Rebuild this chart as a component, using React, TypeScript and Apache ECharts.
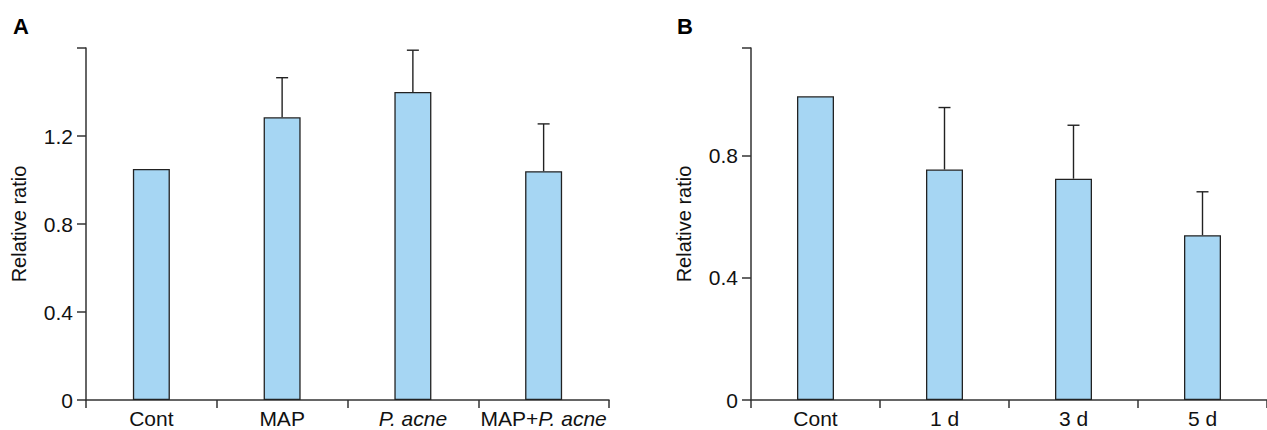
import React, { useEffect, useRef } from "react";
import * as echarts from "echarts";

const categoriesA = ["Cont", "MAP", "P. acne", "MAP+P. acne"];
const valuesA = [1.05, 1.285, 1.4, 1.04];
const errorsA = [0, 0.18, 0.19, 0.215];
const ticksA = { min: 0, max: 1.6, interval: 0.4 };

const categoriesB = ["Cont", "1 d", "3 d", "5 d"];
const valuesB = [0.995, 0.755, 0.725, 0.54];
const errorsB = [0, 0.203, 0.175, 0.142];
const ticksB = { min: 0, max: 1.153, interval: 0.4 };

const FONT = "Liberation Sans, Arial, Helvetica, sans-serif";
const AXIS_COLOR = "#333";
const TEXT_COLOR = "#111";
const BAR_COLOR = "#a6d6f3";
const LABEL_SIZE = 21;

function errorData(values: number[], errors: number[]) {
  return values
    .map((v, i) => [i, v, v + errors[i]])
    .filter((d) => d[2] > d[1]);
}

function renderError(params: any, api: any) {
  const base = api.coord([api.value(0), api.value(1)]);
  const top = api.coord([api.value(0), api.value(2)]);
  const style = { stroke: "#222", lineWidth: 1.4 };
  return {
    type: "group",
    children: [
      { type: "line", shape: { x1: base[0], y1: base[1], x2: top[0], y2: top[1] }, style },
      { type: "line", shape: { x1: top[0] - 6, y1: top[1], x2: top[0] + 6, y2: top[1] }, style },
    ],
  };
}

function labelFmt(v: string) {
  if (v === "P. acne") return "{i|P. acne}";
  if (v === "MAP+P. acne") return "MAP+{i|P. acne}";
  return v;
}

function xAxis(gridIndex: number, data: string[]) {
  return {
    type: "category",
    gridIndex,
    data,
    boundaryGap: true,
    axisLine: { lineStyle: { color: AXIS_COLOR, width: 1.5 } },
    axisTick: { show: true, length: 8, lineStyle: { color: AXIS_COLOR, width: 1.5 } },
    axisLabel: {
      interval: 0,
      hideOverlap: false,
      margin: 8,
      fontSize: LABEL_SIZE,
      fontFamily: FONT,
      color: TEXT_COLOR,
      formatter: labelFmt,
      rich: {
        i: { fontStyle: "italic", fontSize: LABEL_SIZE, fontFamily: FONT, color: TEXT_COLOR },
      },
    },
    splitLine: { show: false },
  };
}

function yAxis(gridIndex: number, t: { min: number; max: number; interval: number }, hideAbove: number) {
  return {
    type: "value",
    gridIndex,
    min: t.min,
    max: t.max,
    interval: t.interval,
    name: "Relative ratio",
    nameLocation: "middle",
    nameGap: 57,
    nameTextStyle: { fontSize: 20, fontFamily: FONT, color: TEXT_COLOR },
    axisLine: { show: true, lineStyle: { color: AXIS_COLOR, width: 1.5 } },
    axisTick: { show: true, length: 9, lineStyle: { color: AXIS_COLOR, width: 1.5 } },
    axisLabel: {
      margin: 13,
      fontSize: LABEL_SIZE,
      fontFamily: FONT,
      color: TEXT_COLOR,
      formatter: (v: number) => (v > hideAbove ? "" : String(Math.round(v * 10) / 10)),
    },
    splitLine: { show: false },
  };
}

export default function App() {
  const ref = useRef<HTMLDivElement>(null);
  useEffect(() => {
    document.body.style.margin = "0";
    if (!ref.current) return;
    const chart = echarts.init(ref.current, null, { renderer: "svg" });
    chart.setOption({
      animation: false,
      backgroundColor: "#ffffff",
      graphic: [
        { type: "text", left: 13, top: 15, style: { text: "A", fontSize: 22, fontWeight: "bold", fontFamily: FONT, fill: "#000" } },
        { type: "text", left: 677, top: 15, style: { text: "B", fontSize: 22, fontWeight: "bold", fontFamily: FONT, fill: "#000" } },
      ],
      grid: [
        { left: 86, right: 658, top: 48, bottom: 30, containLabel: false },
        { left: 751, right: -11, top: 48, bottom: 30, containLabel: false },
      ],
      xAxis: [xAxis(0, categoriesA), xAxis(1, categoriesB)],
      yAxis: [yAxis(0, ticksA, 1.3), yAxis(1, ticksB, 1.0)],
      series: [
        {
          type: "bar",
          xAxisIndex: 0,
          yAxisIndex: 0,
          data: valuesA,
          barWidth: 37,
          itemStyle: { color: BAR_COLOR, borderColor: "#222", borderWidth: 1.3 },
        },
        {
          type: "custom",
          xAxisIndex: 0,
          yAxisIndex: 0,
          data: errorData(valuesA, errorsA),
          renderItem: renderError,
          z: 3,
        },
        {
          type: "bar",
          xAxisIndex: 1,
          yAxisIndex: 1,
          data: valuesB,
          barWidth: 37,
          itemStyle: { color: BAR_COLOR, borderColor: "#222", borderWidth: 1.3 },
        },
        {
          type: "custom",
          xAxisIndex: 1,
          yAxisIndex: 1,
          data: errorData(valuesB, errorsB),
          renderItem: renderError,
          z: 3,
        },
      ],
    });
    return () => chart.dispose();
  }, []);
  return <div ref={ref} style={{ width: 1267, height: 430 }} />;
}
